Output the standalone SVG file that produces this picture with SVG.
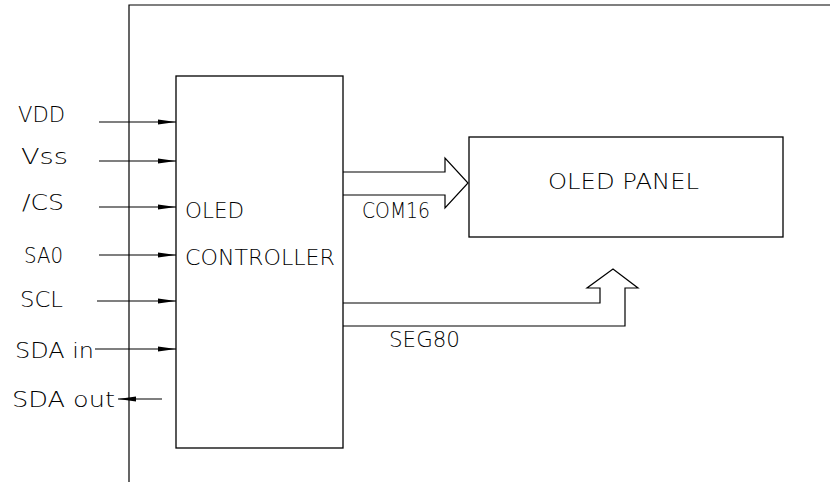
<svg xmlns="http://www.w3.org/2000/svg" width="830" height="482" viewBox="0 0 830 482">
<defs>
<style>
.ln{stroke:#000;stroke-width:1.2;fill:none}
.box{stroke:#000;stroke-width:1.3;fill:#fff}
.t{font-family:"DejaVu Sans","Liberation Sans",sans-serif;font-weight:200;font-size:22px;fill:#000}
</style>
<marker id="ah" markerWidth="18" markerHeight="6" refX="18" refY="3" orient="auto" markerUnits="userSpaceOnUse">
<path d="M0,0.5 L18,3 L0,5.5 Z" fill="#000"/>
</marker>
</defs>
<rect width="830" height="482" fill="#fff"/>
<g id="frame">
<path class="ln" d="M129,482 V5 H830"/>
</g>
<g id="controller">
<rect class="box" x="176" y="76" width="167" height="372"/>
<text class="t" x="185" y="218" textLength="59" lengthAdjust="spacingAndGlyphs">OLED</text>
<text class="t" x="185" y="265" textLength="150" lengthAdjust="spacingAndGlyphs">CONTROLLER</text>
</g>
<g id="panel">
<rect class="box" x="469" y="137" width="314" height="100"/>
<text class="t" x="548" y="189" textLength="151" lengthAdjust="spacingAndGlyphs">OLED PANEL</text>
</g>
<g id="labels">
<text class="t" x="18" y="122" textLength="47" lengthAdjust="spacingAndGlyphs">VDD</text>
<text class="t" x="21" y="164" textLength="47" lengthAdjust="spacingAndGlyphs">Vss</text>
<text class="t" x="22" y="210" textLength="42" lengthAdjust="spacingAndGlyphs">/CS</text>
<text class="t" x="24" y="263" textLength="39" lengthAdjust="spacingAndGlyphs">SA0</text>
<text class="t" x="20" y="307" textLength="43" lengthAdjust="spacingAndGlyphs">SCL</text>
<text class="t" x="15" y="358" textLength="79" lengthAdjust="spacingAndGlyphs">SDA in</text>
<text class="t" x="12" y="407" textLength="103" lengthAdjust="spacingAndGlyphs">SDA out</text>
<text class="t" x="362" y="218" textLength="68" lengthAdjust="spacingAndGlyphs">COM16</text>
<text class="t" x="389" y="347" textLength="71" lengthAdjust="spacingAndGlyphs">SEG80</text>
</g>
<g id="connectors">
<line class="ln" x1="99" y1="122" x2="176" y2="122" marker-end="url(#ah)"/>
<line class="ln" x1="99" y1="161" x2="176" y2="161" marker-end="url(#ah)"/>
<line class="ln" x1="99" y1="207" x2="176" y2="207" marker-end="url(#ah)"/>
<line class="ln" x1="99" y1="255" x2="176" y2="255" marker-end="url(#ah)"/>
<line class="ln" x1="97" y1="301" x2="176" y2="301" marker-end="url(#ah)"/>
<line class="ln" x1="95" y1="349" x2="176" y2="349" marker-end="url(#ah)"/>
<line class="ln" x1="162" y1="399" x2="118" y2="399" marker-end="url(#ah)"/>
<path class="ln" d="M343,172 H445 V158 L468,183 L445,208 V195 H343"/>
<path class="ln" d="M343,303 H600 V288 H587 L613,269 L638,288 H625 V326 H343"/>
</g>
</svg>
